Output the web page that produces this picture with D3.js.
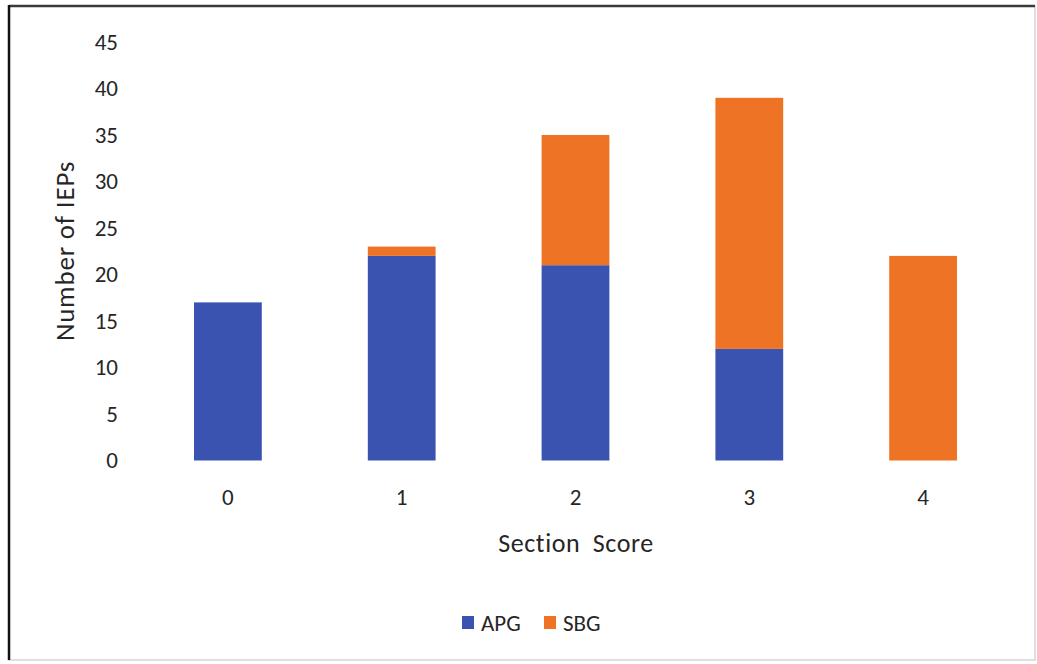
<!DOCTYPE html>
<html>
<head>
<meta charset="utf-8">
<script src="https://cdn.jsdelivr.net/npm/d3@7"></script>
<style>
  html, body { margin: 0; padding: 0; background: #fff; }
  svg { display: block; font-family: Carlito, Lato, "Open Sans", sans-serif; }
</style>
</head>
<body>
<svg id="chart" width="1037" height="664"></svg>
<script>
// Section scores and IEP counts per group
const categories = ["0", "1", "2", "3", "4"];
const seriesNames = ["APG", "SBG"];
const apgValues = [17, 22, 21, 12, 0];
const sbgValues = [0, 1, 14, 27, 22];
const yTicks = [0, 5, 10, 15, 20, 25, 30, 35, 40, 45];
const colors = ["#3a52b0", "#ef7325"];
const textColor = "#262626";
const fontStack = "Carlito, Lato, 'Open Sans', sans-serif";

const svg = d3.select("#chart");

// Outer frame
svg.append("rect").attr("x", 9).attr("y", 6).attr("width", 1026).attr("height", 654)
  .attr("fill", "#fff").attr("stroke", "#d4d4d4").attr("stroke-width", 1.5);
svg.append("line").attr("x1", 9).attr("x2", 1035).attr("y1", 6).attr("y2", 6)
  .attr("stroke", "#3a3a3a").attr("stroke-width", 2.5);
svg.append("line").attr("x1", 9).attr("x2", 9).attr("y1", 5).attr("y2", 660)
  .attr("stroke", "#111").attr("stroke-width", 2.5);

const x = d3.scaleBand().domain(categories).range([141, 1010]).paddingInner(0.61).paddingOuter(0.305);
const y = d3.scaleLinear().domain([0, 45]).range([460.5, 42]);

const table = categories.map((c, i) => ({ cat: c, APG: apgValues[i], SBG: sbgValues[i] }));
const stacked = d3.stack().keys(seriesNames)(table);

svg.append("g").selectAll("g").data(stacked).join("g")
  .attr("fill", (d, i) => colors[i])
  .selectAll("rect").data(d => d).join("rect")
  .attr("x", d => x(d.data.cat))
  .attr("width", x.bandwidth())
  .attr("y", d => y(d[1]))
  .attr("height", d => y(d[0]) - y(d[1]));

// Y axis labels (no axis line)
const yAxis = svg.append("g").attr("transform", "translate(118,0)")
  .call(d3.axisLeft(y).tickValues(yTicks).tickSize(0).tickPadding(0));
yAxis.select(".domain").remove();
yAxis.selectAll("text").attr("font-size", 23).attr("fill", textColor)
  .attr("font-family", fontStack);

// X axis labels
const xAxis = svg.append("g").attr("transform", "translate(0,489)")
  .call(d3.axisBottom(x).tickSize(0).tickPadding(0));
xAxis.select(".domain").remove();
xAxis.selectAll("text").attr("font-size", 23).attr("fill", textColor)
  .attr("font-family", fontStack);

// Axis titles
svg.append("text").attr("x", 576).attr("y", 552).attr("text-anchor", "middle")
  .attr("font-size", 26).attr("letter-spacing", 0.6).attr("word-spacing", 6)
  .attr("fill", textColor).text("Section Score");
svg.append("text").attr("transform", "translate(74,251) rotate(-90)").attr("text-anchor", "middle")
  .attr("font-size", 27).attr("letter-spacing", 0.8)
  .attr("fill", textColor).text("Number of IEPs");

// Legend
const legendItems = [{ name: "APG", x: 462 }, { name: "SBG", x: 544 }];
const legend = svg.append("g").selectAll("g").data(legendItems).join("g")
  .attr("transform", d => `translate(${d.x},616)`);
legend.append("rect").attr("width", 12).attr("height", 13).attr("fill", (d, i) => colors[i]);
legend.append("text").attr("x", 19).attr("y", 14.5).attr("font-size", 23).attr("fill", textColor)
  .text(d => d.name);
</script>
</body>
</html>
